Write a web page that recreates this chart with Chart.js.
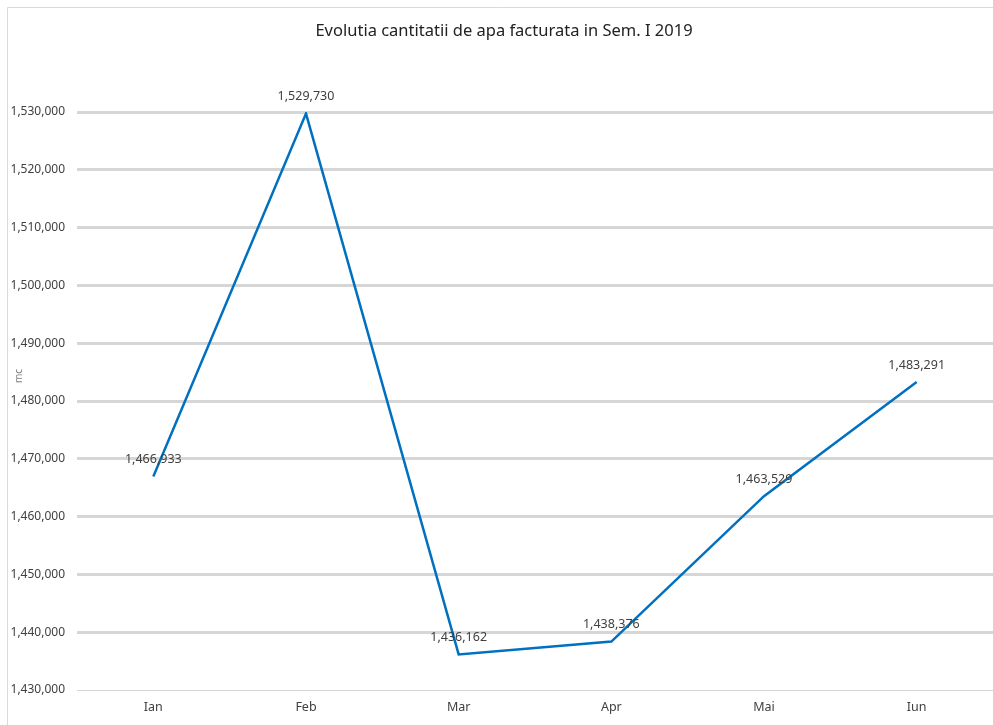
<!DOCTYPE html>
<html>
<head>
<meta charset="utf-8">
<script src="https://cdn.jsdelivr.net/npm/chart.js@4"></script>
<style>
html,body{margin:0;padding:0;background:#fff;}
#wrap{width:993px;height:725px;position:relative;}
</style>
</head>
<body>
<div id="wrap"><canvas id="c" width="993" height="725"></canvas></div>
<script>
const categories = ["Ian", "Feb", "Mar", "Apr", "Mai", "Iun"];
const values = [1466933, 1529730, 1436162, 1438376, 1463529, 1483291];
const titleText = "Evolutia cantitatii de apa facturata in Sem. I 2019";
const yAxisTitle = "mc";
const yMin = 1430000, yMax = 1530000, yStep = 10000;

const fmt = v => Math.round(v).toLocaleString('en-US');

const frame = {
  id: 'frame',
  beforeDraw(chart) {
    const ctx = chart.ctx;
    ctx.save();
    ctx.fillStyle = '#fff';
    ctx.fillRect(0, 0, chart.width, chart.height);
    ctx.strokeStyle = '#d9d9d9';
    ctx.lineWidth = 1;
    ctx.beginPath();
    ctx.moveTo(7.5, chart.height);
    ctx.lineTo(7.5, 7.5);
    ctx.lineTo(chart.width, 7.5);
    ctx.stroke();
    ctx.restore();
  },
  afterDraw(chart) {
    const ctx = chart.ctx;
    ctx.save();
    ctx.fillStyle = '#222';
    ctx.font = '16.5px "Noto Sans"';
    ctx.textAlign = 'center';
    ctx.textBaseline = 'middle';
    ctx.fillText(titleText, 504, 31);
    ctx.translate(19, 376);
    ctx.rotate(-Math.PI / 2);
    ctx.fillStyle = '#7f7f7f';
    ctx.font = '10px "Noto Sans"';
    ctx.fillText(yAxisTitle, 0, 0);
    ctx.restore();
  }
};

const labels = {
  id: 'labels',
  afterDatasetsDraw(chart) {
    const ctx = chart.ctx;
    const meta = chart.getDatasetMeta(0);
    ctx.save();
    ctx.font = '12.5px "Noto Sans"';
    ctx.fillStyle = '#404040';
    ctx.textAlign = 'center';
    ctx.textBaseline = 'middle';
    meta.data.forEach((pt, i) => {
      ctx.fillText(fmt(values[i]), pt.x, pt.y - 17);
    });
    ctx.restore();
  }
};

new Chart(document.getElementById('c'), {
  type: 'line',
  data: {
    labels: categories,
    datasets: [{
      data: values,
      borderColor: '#0070c0',
      borderWidth: 2.5,
      pointRadius: 0,
      tension: 0,
      fill: false
    }]
  },
  options: {
    responsive: false,
    animation: false,
    layout: { padding: { left: 0, right: 0, top: 112, bottom: 0 } },
    plugins: {
      legend: { display: false },
      tooltip: { enabled: false },
      title: { display: false }
    },
    scales: {
      x: {
        offset: true,
        grid: { display: false, drawTicks: false },
        border: { display: false },
        ticks: { color: '#404040', padding: 10, font: { family: 'Noto Sans', size: 12.5 } }
      },
      y: {
        min: yMin,
        max: yMax,
        afterFit(s) { s.width = 77; },
        grid: {
          color: '#d6d6d6',
          lineWidth: c => (c.tick && c.tick.value === yMin) ? 1 : 3,
          drawTicks: false
        },
        border: { display: false },
        ticks: {
          stepSize: yStep,
          color: '#404040',
          padding: 12,
          font: { family: 'Noto Sans', size: 12 },
          callback: v => fmt(v)
        }
      }
    }
  },
  plugins: [frame, labels]
});
</script>
</body>
</html>
